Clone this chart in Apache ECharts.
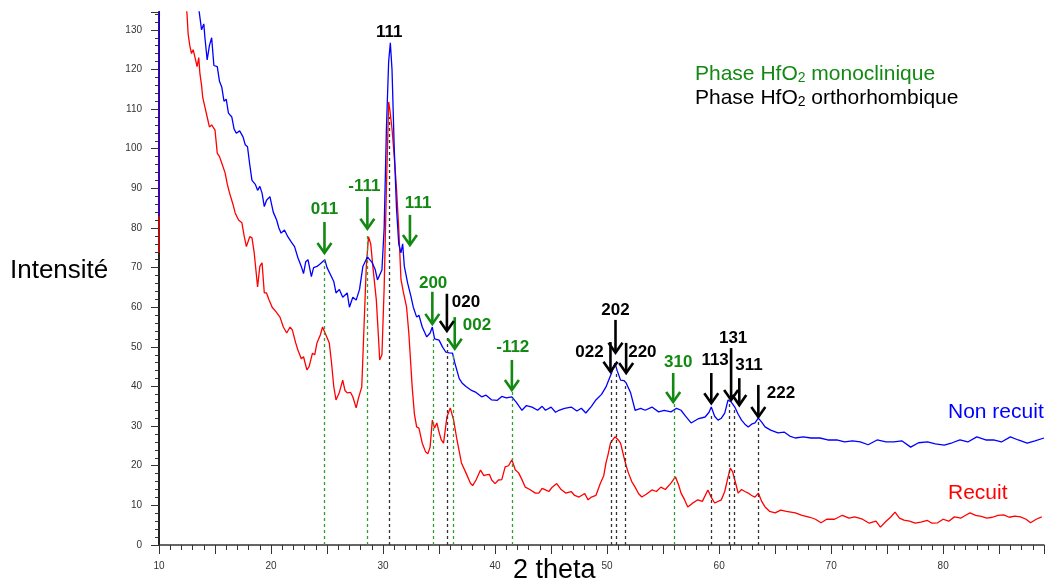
<!DOCTYPE html>
<html><head><meta charset="utf-8">
<script src="https://cdn.jsdelivr.net/npm/echarts@6/dist/echarts.min.js"></script>
<style>html,body{margin:0;padding:0;background:#fff}#c{width:1047px;height:582px}</style>
</head><body><div id="c"></div>
<script>
// 2 theta (deg), intensity
const nonRecuit = [
[10.0,83],[10.05,160],[13.3,140],[13.6,134.3],[13.8,130],[14.0,131.5],[14.1,128],[14.3,122.4],[14.5,126],[14.7,128],[14.9,121],
[15.2,120.7],[15.4,117],[15.6,115.6],[15.8,112],[16.0,112.5],[16.2,109],[16.5,108],[16.7,105],[16.9,103.9],[17.2,104.5],
[17.5,103],[17.7,101],[17.9,100.5],[18.1,96],[18.3,92],[18.6,91],[18.8,89.5],[19.0,90.5],[19.2,88.8],[19.4,85.4],[19.6,87],
[19.9,87.9],[20.2,84],[20.5,82],[20.7,80],[20.9,78.7],[21.2,79.5],[21.5,77.8],[21.8,76.5],[22.1,75.3],[22.4,72.5],[22.7,70.3],
[22.9,68.5],[23.1,71.5],[23.3,72],[23.6,67.7],[23.8,70],[24.1,70.3],[24.4,71],[24.8,72],[25.0,70],[25.4,67.7],[25.6,66.5],
[25.8,63.6],[26.1,64.5],[26.4,62.5],[26.8,63.6],[27.0,60],[27.3,62.5],[27.6,61.8],[27.9,64.5],[28.2,70.3],[28.6,72.7],
[29.0,71.4],[29.3,69.5],[29.5,66.9],[29.9,69.4],[30.1,80],[30.3,105],[30.5,122],[30.65,126.7],[30.8,120],[31.0,100],
[31.2,85],[31.4,76],[31.6,73.7],[31.75,76],[31.9,70.3],[32.2,66],[32.5,62.6],[32.7,60],[33.0,57.5],[33.2,58],[33.5,55],
[33.9,52.5],[34.2,53.5],[34.4,55],[34.6,52],[35.0,51.7],[35.3,50],[35.6,48.7],[35.9,48.5],[36.2,48.4],[36.4,46],[36.6,44],
[36.8,42],[37.05,40.9],[37.4,40],[37.9,39],[38.3,38.5],[38.8,37.4],[39.2,37.8],[39.7,36.6],[40.2,36.5],[40.6,37.5],[41.0,37.1],
[41.5,37.4],[41.9,36],[42.4,34],[42.8,35.2],[43.3,34.8],[43.8,34],[44.2,35],[44.5,34],[45.0,34.8],[45.4,33.5],[45.7,34],
[46.2,34.5],[46.8,34.8],[47.3,33.8],[47.7,34.5],[48.1,33.3],[48.6,35],[49.0,36.6],[49.5,38],[49.9,39.9],[50.2,42],[50.4,43.4],
[50.7,45.9],[50.9,44],[51.2,41.6],[51.5,41.5],[51.7,40.9],[52.1,38.4],[52.5,34],[53.0,34.5],[53.4,34],[54.0,34.8],[54.6,33.6],
[55.1,34],[55.7,33.6],[56.2,34.5],[56.6,34],[57.0,32.5],[57.5,30.8],[58.1,31.8],[58.75,32.3],[59.1,33.5],[59.3,34.8],
[59.6,32.5],[59.9,31.5],[60.2,32],[60.5,33.3],[60.8,36.6],[61.1,36],[61.4,34.8],[61.7,33],[62.0,31.5],[62.3,30.5],[62.6,29.8],
[62.9,30.5],[63.2,30.8],[63.5,32],[63.8,31],[64.1,29.8],[64.6,29],[65.25,28.3],[65.8,28.5],[66.3,27.5],[66.8,27],[67.5,27.3],
[68.2,27],[69.0,27],[69.7,26.5],[70.5,26.5],[71.2,26],[71.9,26.3],[72.6,26],[73.3,25.3],[74.1,26.5],[74.9,26],[75.6,26],
[76.3,26.3],[77.1,24.7],[77.8,25.8],[78.6,26],[79.3,25.5],[80.1,25.2],[80.8,25.8],[81.5,26.5],[82.2,26],[83.0,27.3],
[83.8,26.5],[84.5,26.5],[85.2,26],[86.0,27.3],[86.7,26.5],[87.5,25.7],[88.2,26.3],[89.0,27]
];
const recuit = [
[10.0,73.7],[10.05,160],[12.3,140],[12.5,134],[12.6,129],[12.75,126],[12.9,124],[13.05,125],[13.2,124.5],[13.3,122],[13.4,120.7],
[13.55,123],[13.65,119],[13.8,116],[13.9,113],[14.1,110.5],[14.3,108],[14.5,105.5],[14.7,106],[15.0,104.7],[15.2,98.9],
[15.4,98],[15.6,96.4],[15.9,93.9],[16.1,91],[16.3,88.8],[16.6,86],[16.8,83.8],[17.1,82],[17.4,81.3],[17.6,78],[17.8,75.3],
[18.1,77.8],[18.3,77.5],[18.5,73.7],[18.7,68],[18.8,65.1],[19.0,70.3],[19.2,71.2],[19.4,63.6],[19.6,63.6],[19.8,62],[20.1,60],
[20.4,59],[20.8,57.5],[21.1,55],[21.4,53.5],[21.7,55],[21.9,54.3],[22.2,51],[22.4,49.2],[22.7,47],[22.9,47.5],[23.2,44.2],
[23.4,45],[23.7,48.4],[23.9,48],[24.1,51],[24.4,53],[24.6,55],[24.9,53],[25.2,51],[25.4,46],[25.6,40],[25.8,36.6],[26.1,38.5],
[26.4,41.6],[26.6,39],[26.8,38.4],[27.1,38.5],[27.3,37.4],[27.6,34.6],[27.8,37],[28.1,39.9],[28.3,55],[28.5,70],[28.7,77.8],
[28.9,76],[29.1,70],[29.4,61.8],[29.6,52],[29.7,46.7],[29.9,48],[30.1,65],[30.3,90],[30.5,111.8],[30.6,110],[30.8,105],
[31.0,98],[31.2,90],[31.4,80],[31.6,67],[31.8,64],[31.9,63.6],[32.1,60],[32.3,53.5],[32.6,39.9],[32.8,33],[33.0,29.8],
[33.2,29.5],[33.5,25.7],[33.8,23.5],[34.0,23],[34.2,24.7],[34.4,31.5],[34.6,29.5],[34.8,30.8],[35.0,28.5],[35.2,26.5],
[35.4,25.7],[35.7,32.3],[36.0,34.6],[36.3,31.5],[36.6,26.5],[37.0,20.7],[37.4,18.2],[37.8,15.6],[38.0,15],[38.3,16.4],
[38.7,18.9],[39.0,17.5],[39.2,17.7],[39.5,17.8],[39.7,16.4],[40.0,15.5],[40.3,16.4],[40.6,16.5],[40.9,19.7],[41.2,20],
[41.5,21.5],[41.8,19],[42.1,18.2],[42.4,16.5],[42.7,14.6],[43.1,14],[43.6,13.1],[43.9,13.1],[44.2,14.3],[44.5,13.9],
[44.8,13.5],[45.1,14.6],[45.5,15.5],[45.9,14],[46.3,13.1],[46.8,13.5],[47.1,12.5],[47.5,12.1],[48.0,13],[48.3,11.4],
[48.6,12.1],[49.0,12.5],[49.4,15.6],[49.7,17.5],[49.9,20.7],[50.1,23],[50.3,25.7],[50.5,26.5],[50.7,27.3],[51.0,26.5],
[51.2,25.7],[51.5,22.2],[51.7,20],[51.9,18.2],[52.2,16],[52.5,14.6],[52.8,13],[53.1,12.1],[53.5,12.8],[54.0,13.9],[54.4,13.5],
[54.8,14.6],[55.2,14],[55.7,15.6],[56.1,17.2],[56.4,15],[56.6,13.1],[56.9,11.5],[57.2,9.6],[57.6,10.5],[58.1,11.4],[58.5,11],
[59.0,13.9],[59.3,12],[59.6,10.6],[60.2,11.4],[60.5,13.5],[60.8,17.2],[61.0,19.4],[61.2,18.5],[61.4,16.4],[61.7,13.1],[62.0,14],
[62.3,13.5],[62.6,13.1],[62.9,12.5],[63.2,12.1],[63.5,13.1],[63.8,11],[64.1,9.6],[64.5,8.5],[65.0,8.1],[65.5,8.8],[66.0,8.5],
[66.8,8.1],[67.4,7.5],[68.1,7],[68.6,6.5],[69.1,5.6],[69.6,6.5],[70.3,6.5],[71.0,7.5],[71.6,6.8],[72.1,7.1],[72.8,6.5],
[73.4,5.5],[74.0,6],[74.4,4.5],[74.9,6],[75.3,7],[75.7,8.3],[76.1,6.8],[76.5,6.3],[77.0,6],[77.5,5.5],[78.0,5.8],[78.6,6.2],
[79.0,5.5],[79.5,5.6],[80.0,6.5],[80.5,6],[81.0,7.1],[81.6,6.8],[82.0,7.5],[82.4,8.1],[82.9,7.5],[83.4,7.2],[83.9,6.8],
[84.4,7],[84.9,7.5],[85.4,7.6],[85.9,7],[86.4,7.3],[86.9,7.1],[87.4,6.5],[87.8,5.6],[88.3,6.5],[88.8,7.1]
];
// reference lines: [2theta, top intensity]
const monoRefs = [[24.75,72],[28.6,78.7],[34.45,52],[36.3,48],[41.5,39],[56.0,36]];
const orthoRefs = [[30.55,108],[35.7,53],[50.35,41.6],[50.8,44],[51.6,41],[59.3,33.3],[60.9,35.8],[61.35,34.8],[63.5,31.5]];
// peak annotations
const peakLabels = ['011','-111','111','200','002','-112','310','111','020','202','022','220','113','131','311','222'];
const peakPhase  = [0,0,0,0,0,0,0,1,1,1,1,1,1,1,1,1]; // 0 monoclinique, 1 orthorhombique
const arrowX     = [24.77,28.6,32.4,34.4,36.4,41.5,55.9,30.55,35.7,50.75,50.3,51.7,59.3,61.07,61.8,63.5];
const arrowTop   = [81.5,87.8,83.3,63.9,57.5,46.7,43.4,0,63.4,56.8,51.2,51,43.4,49.7,42.1,40.4];
const arrowTip   = [73.7,79.8,75.7,55.8,49.5,39.1,36.1,0,54,48.5,43.7,43.4,35.8,36.6,35.3,32.3];
const labelX     = [24.77,28.33,33.13,34.47,38.38,41.58,56.35,30.55,37.4,50.75,48.43,53.15,59.64,61.25,62.67,65.52];
const labelY     = [84.6,90.4,86.3,66.1,55.5,50,46.2,129.5,61.3,59.1,48.7,48.7,46.7,52.2,45.4,38.4];

const GREEN = '#128912', GREEN_D = '#2f9f2f', BLACK = '#000', BLACK_D = '#333';
const FONT = '"Liberation Sans", Arial, Helvetica, sans-serif';

const peakData = peakLabels.map((l,i)=>[arrowX[i],arrowTop[i],arrowTip[i],labelX[i],labelY[i],peakPhase[i]]);
const mkLines = (refs)=>refs.map(r=>[{coord:[r[0],0]},{coord:[r[0],r[1]]}]);

const chart = echarts.init(document.getElementById('c'), null, {renderer:'canvas'});
chart.setOption({
  animation:false,
  backgroundColor:'#fff',
  grid:{left:159,right:0,top:12,bottom:37,containLabel:false},
  xAxis:{type:'value',min:10,max:89,interval:5,
    axisLine:{lineStyle:{color:'#333',width:1.5}},
    axisTick:{show:true,length:9,lineStyle:{color:'#333',width:1}},
    minorTick:{show:true,splitNumber:5,length:5,lineStyle:{color:'#333',width:1}},
    splitLine:{show:false},minorSplitLine:{show:false},
    axisLabel:{margin:16,fontSize:10,color:'#333',fontFamily:FONT,formatter:v=>(v%10===0?String(v):'')}},
  yAxis:{type:'value',min:0,max:134.5,interval:10,
    axisLine:{show:true,lineStyle:{color:'#222',width:2}},
    axisTick:{show:true,length:8,lineStyle:{color:'#333',width:1}},
    minorTick:{show:true,splitNumber:5,length:4,lineStyle:{color:'#333',width:1}},
    splitLine:{show:false},minorSplitLine:{show:false},
    axisLabel:{margin:17,fontSize:10,color:'#333',fontFamily:FONT,formatter:v=>(v%10===0?String(v):'')}},
  graphic:[
    {type:'text',x:695,y:73,style:{text:'{a|Phase HfO}{s|2}{a| monoclinique}',fill:GREEN,verticalAlign:'middle',
      rich:{a:{fontSize:21,fontFamily:FONT,lineHeight:24,verticalAlign:'bottom',color:GREEN},s:{fontSize:14,fontFamily:FONT,lineHeight:12,verticalAlign:'bottom',color:GREEN}}}},
    {type:'text',x:695,y:97,style:{text:'{a|Phase HfO}{s|2}{a| orthorhombique}',fill:'#000',verticalAlign:'middle',
      rich:{a:{fontSize:21,fontFamily:FONT,lineHeight:24,verticalAlign:'bottom',color:'#000'},s:{fontSize:14,fontFamily:FONT,lineHeight:12,verticalAlign:'bottom',color:'#000'}}}},
    {type:'text',x:948,y:412,style:{text:'Non recuit',fill:'#0000ff',fontSize:21,fontFamily:FONT,verticalAlign:'middle'}},
    {type:'text',x:948,y:493,style:{text:'Recuit',fill:'#ff0000',fontSize:21,fontFamily:FONT,verticalAlign:'middle'}},
    {type:'text',x:10,y:271,style:{text:'Intensité',fill:'#000',fontSize:26,fontFamily:FONT,verticalAlign:'middle'}},
    {type:'text',x:513,y:571,style:{text:'2 theta',fill:'#000',fontSize:27,fontFamily:FONT,verticalAlign:'middle'}}
  ],
  series:[
    {name:'Recuit',type:'line',data:recuit,showSymbol:false,symbol:'none',lineStyle:{color:'#ff0000',width:1.3},z:2,
      markLine:{silent:true,symbol:['none','none'],label:{show:false},lineStyle:{color:GREEN_D,type:[3,3],width:1.3},data:mkLines(monoRefs)}},
    {name:'Non recuit',type:'line',data:nonRecuit,showSymbol:false,symbol:'none',lineStyle:{color:'#0000ff',width:1.3},z:3,
      markLine:{silent:true,symbol:['none','none'],label:{show:false},lineStyle:{color:BLACK_D,type:[3,3],width:1.3},data:mkLines(orthoRefs)}},
    {name:'peaks',type:'custom',z:5,data:peakData,encode:{x:0,y:1},clip:false,
      renderItem:function(params,api){
        const i=params.dataIndex;
        const col=api.value(5)?BLACK:GREEN;
        const top=api.coord([api.value(0),api.value(1)]);
        const tip=api.coord([api.value(0),api.value(2)]);
        const lab=api.coord([api.value(3),api.value(4)]);
        const ch=[];
        if(api.value(1)!==api.value(2)){
          ch.push({type:'line',shape:{x1:top[0],y1:top[1],x2:tip[0],y2:tip[1]-2},style:{stroke:col,lineWidth:2.6}});
          ch.push({type:'polyline',shape:{points:[[tip[0]-7,tip[1]-10],[tip[0],tip[1]],[tip[0]+7,tip[1]-10]]},style:{stroke:col,lineWidth:2.6,fill:'none',lineJoin:'miter'}});
        }
        ch.push({type:'text',x:lab[0],y:lab[1],style:{text:peakLabels[i],fill:col,font:'bold 17px '+FONT,align:'center',verticalAlign:'middle'}});
        return {type:'group',children:ch};
      }}
  ]
});
</script></body></html>
